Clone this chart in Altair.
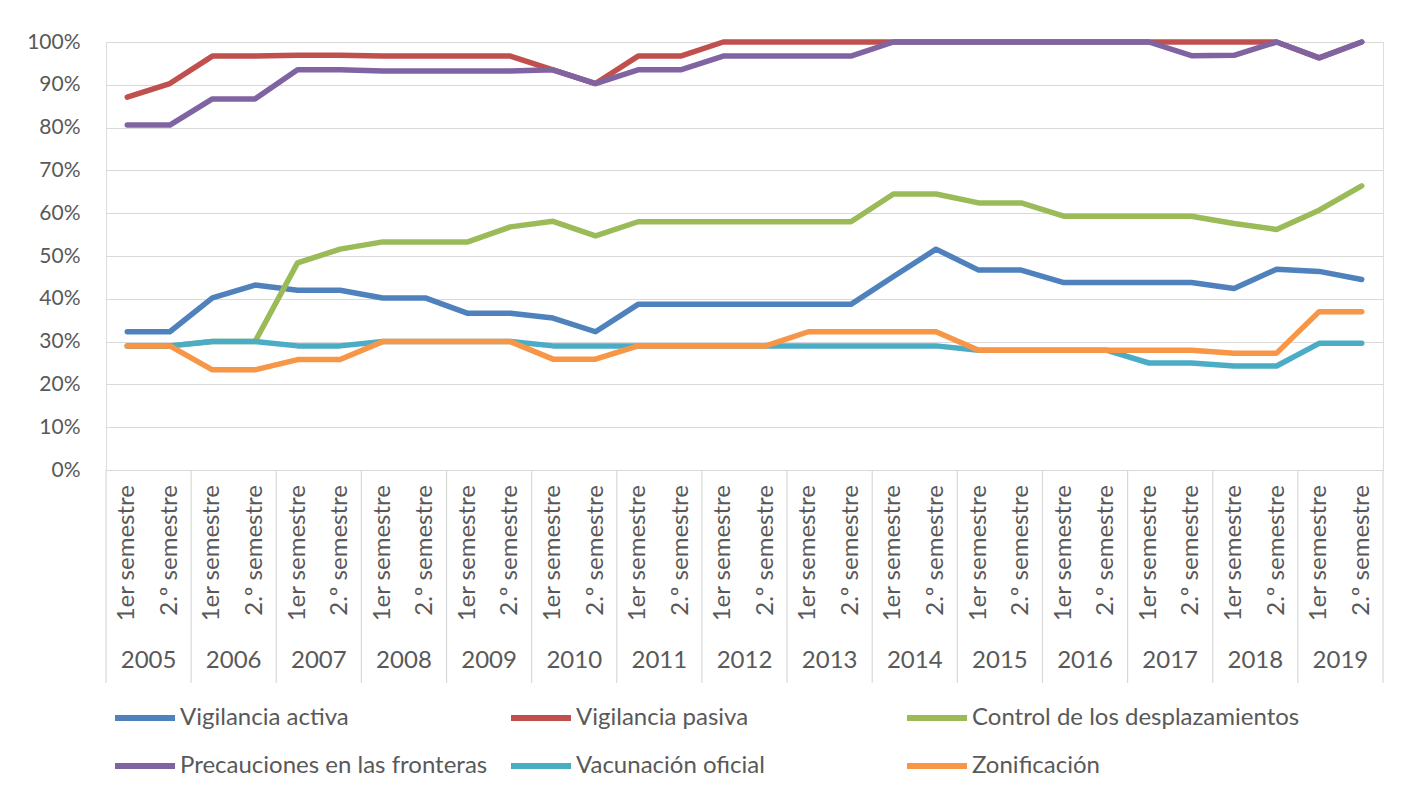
import altair as alt
import pandas as pd

years = [str(y) for y in range(2005, 2020)]
semesters = ["1er semestre", "2.º semestre"]

series_names = [
    "Vigilancia activa",
    "Vigilancia pasiva",
    "Control de los desplazamientos",
    "Precauciones en las fronteras",
    "Vacunación oficial",
    "Zonificación",
]
series_colors = ["#4F81BD", "#C0504D", "#9BBB59", "#8064A2", "#4BACC6", "#F79646"]

vigilancia_activa = [32.3, 32.3, 40.2, 43.2, 42.0, 42.0, 40.2, 40.2, 36.6, 36.6,
                     35.5, 32.3, 38.7, 38.7, 38.7, 38.7, 38.7, 38.7, 45.2, 51.6,
                     46.7, 46.7, 43.8, 43.8, 43.8, 43.8, 42.4, 46.9, 46.4, 44.5]
vigilancia_pasiva = [87.1, 90.3, 96.7, 96.7, 96.9, 96.9, 96.7, 96.7, 96.7, 96.7,
                     93.5, 90.3, 96.7, 96.7, 100, 100, 100, 100, 100, 100,
                     100, 100, 100, 100, 100, 100, 100, 100, 96.3, 100]
control_desplazamientos = [29.0, 29.0, 30.0, 30.0, 48.4, 51.6, 53.3, 53.3, 53.3, 56.8,
                           58.1, 54.7, 58.0, 58.0, 58.0, 58.0, 58.0, 58.0, 64.5, 64.5,
                           62.4, 62.4, 59.3, 59.3, 59.3, 59.3, 57.6, 56.2, 60.7, 66.4]
precauciones_fronteras = [80.6, 80.6, 86.7, 86.7, 93.5, 93.5, 93.2, 93.2, 93.2, 93.2,
                          93.5, 90.3, 93.5, 93.5, 96.7, 96.7, 96.7, 96.7, 100, 100,
                          100, 100, 100, 100, 100, 96.8, 96.9, 100, 96.3, 100]
vacunacion_oficial = [29.0, 29.0, 30.0, 30.0, 29.0, 29.0, 30.0, 30.0, 30.0, 30.0,
                      29.0, 29.0, 29.0, 29.0, 29.0, 29.0, 29.0, 29.0, 29.0, 29.0,
                      28.0, 28.0, 28.0, 28.0, 25.0, 25.0, 24.3, 24.3, 29.6, 29.6]
zonificacion = [29.0, 29.0, 23.4, 23.4, 25.8, 25.8, 30.0, 30.0, 30.0, 30.0,
                25.9, 25.9, 29.0, 29.0, 29.0, 29.0, 32.3, 32.3, 32.3, 32.3,
                28.0, 28.0, 28.0, 28.0, 28.0, 28.0, 27.3, 27.3, 37.0, 37.0]

all_values = [vigilancia_activa, vigilancia_pasiva, control_desplazamientos,
              precauciones_fronteras, vacunacion_oficial, zonificacion]

n = len(years) * len(semesters)
rows = []
for name, vals in zip(series_names, all_values):
    for i, v in enumerate(vals):
        rows.append({"series": name, "pos": i + 0.5, "value": v / 100})
df = pd.DataFrame(rows)

# legend is filled column by column (2 rows): reorder so it reads row by row
legend_order = [0, 3, 1, 4, 2, 5]
legend_domain = [series_names[k] for k in legend_order]
legend_range = [series_colors[k] for k in legend_order]

sem_df = pd.DataFrame({"pos": [i + 0.5 for i in range(n)],
                       "label": [semesters[i % 2] for i in range(n)]})
year_df = pd.DataFrame({"pos": [2 * k + 1 for k in range(len(years))], "year": years})
sep_df = pd.DataFrame({"pos": [2 * k for k in range(len(years) + 1)]})

FONT = "Lato"
GREY = "#595959"
W, H = 1277, 428

xenc = alt.X("pos:Q", scale=alt.Scale(domain=[0, n], nice=False, zero=False), axis=None)
yenc = alt.Y("value:Q", scale=alt.Scale(domain=[0, 1], nice=False),
             axis=alt.Axis(values=[i / 10 for i in range(11)], format=".0%", grid=True,
                           gridColor="#d9d9d9", gridWidth=1.2, domain=False, ticks=False,
                           labelFontSize=21, labelColor=GREY, labelFont=FONT,
                           labelPadding=26, title=None))
cenc = alt.Color("series:N", scale=alt.Scale(domain=legend_domain, range=legend_range),
                 legend=alt.Legend(title=None, orient="none", legendX=6, legendY=643,
                                   columns=3, symbolType="stroke", symbolSize=3600,
                                   symbolStrokeWidth=6, labelFontSize=24, labelColor=GREY,
                                   labelFont=FONT, gridAlign="all", columnPadding=-12,
                                   rowPadding=3, labelOffset=2, labelLimit=500, padding=0))

layers = []
for name in series_names:
    layers.append(
        alt.Chart(df).transform_filter(alt.datum.series == name)
        .mark_line(strokeWidth=5.5, strokeCap="round", strokeJoin="round")
        .encode(x=xenc, y=yenc, color=cenc)
    )

seps = alt.Chart(sep_df).mark_rule(color="#d9d9d9", strokeWidth=1.2).encode(
    x=xenc, y=alt.value(H), y2=alt.value(641))
sem_text = alt.Chart(sem_df).mark_text(angle=270, align="right", baseline="middle",
                                       fontSize=24, font=FONT, color=GREY).encode(
    x=xenc, y=alt.value(443), text="label:N")
year_text = alt.Chart(year_df).mark_text(align="center", baseline="middle",
                                         fontSize=24, font=FONT, color=GREY).encode(
    x=xenc, y=alt.value(619), text="year:N")

chart = alt.layer(seps, *layers, sem_text, year_text).properties(
    width=W, height=H,
    autosize=alt.AutoSizeParams(type="none"),
    padding={"left": 98, "top": 34, "right": 8, "bottom": 310},
).configure_view(stroke=None).configure(background="white")

chart.save("out.html", embed_options={"renderer": "svg", "actions": False})
